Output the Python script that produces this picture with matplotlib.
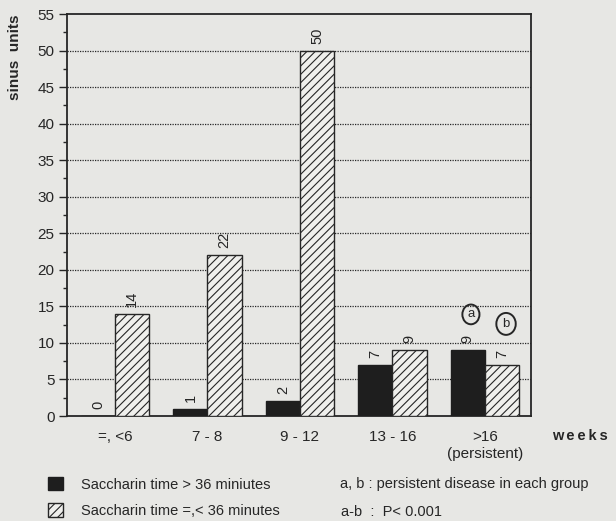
import matplotlib
matplotlib.use("Agg")
import matplotlib.pyplot as plt
from matplotlib.patches import Patch, Ellipse

plt.rcParams['font.family'] = ['Liberation Sans', 'DejaVu Sans']

# Data: sinus units by duration of disease (weeks)
categories = ["=, <6", "7 - 8", "9 - 12", "13 - 16", ">16\n(persistent)"]
slow_clearance = [0, 1, 2, 7, 9]      # saccharin time > 36 min
fast_clearance = [14, 22, 50, 9, 7]   # saccharin time =,< 36 min
yticks = list(range(0, 60, 5))

bg = "#e7e7e4"
ink = "#262626"

fig = plt.figure(figsize=(6.16, 5.21), dpi=100, facecolor=bg)
ax = fig.add_axes([67 / 616, 1 - 416 / 521, (531 - 67) / 616, (416 - 14) / 521])
ax.set_facecolor(bg)

x = list(range(len(categories)))
w = 0.37
plt.rcParams['hatch.linewidth'] = 0.8

b1 = ax.bar([i - w / 2 for i in x], slow_clearance, width=w, color="#1e1e1e",
            edgecolor="#1e1e1e", linewidth=1.0, zorder=3)
b2 = ax.bar([i + w / 2 for i in x], fast_clearance, width=w, color="#efefec",
            edgecolor=ink, hatch="////", linewidth=1.0, zorder=3)

for bars, vals in ((b1, slow_clearance), (b2, fast_clearance)):
    for r, v in zip(bars, vals):
        ax.annotate(str(v), (r.get_x() + r.get_width() / 2, v), xytext=(0, 5),
                    textcoords="offset points", rotation=90, ha="center",
                    va="bottom", fontsize=10.5, color=ink)

ax.set_xlim(-0.52, 4.5)
ax.set_ylim(0, 55)
ax.set_yticks(yticks)
ax.set_yticks([v + 2.5 for v in yticks[:-1]], minor=True)
ax.tick_params(axis="y", which="major", length=6, width=1, labelsize=11,
               colors=ink, pad=3)
ax.tick_params(axis="y", which="minor", length=3, width=1, colors=ink)
ax.set_xticks(x)
ax.set_xticklabels(categories, fontsize=11, color=ink, linespacing=1.3)
ax.tick_params(axis="x", length=0, pad=10)

for v in yticks[1:-1]:
    ax.axhline(v, color=ink, linewidth=0.9, linestyle=(0, (1, 1)), zorder=1)

for s in ax.spines.values():
    s.set_color(ink)
    s.set_linewidth(1.3)

# circled markers for the persistent-disease groups
for lab, cx, cy, ew, eh in (("a", 3.85, 13.9, 0.185, 2.7), ("b", 4.23, 12.6, 0.21, 3.0)):
    ax.add_patch(Ellipse((cx, cy), ew, eh, fill=False, ec=ink, lw=1.4, zorder=4))
    ax.text(cx, cy, lab, ha="center", va="center", fontsize=9.5, color=ink, zorder=4)

fig.text(15 / 616, 1 - 57 / 521, "sinus  units", rotation=90, ha="center",
         va="center", fontsize=11, fontweight="bold", color=ink)
fig.text(552 / 616, 1 - 436 / 521, "w\u2009e\u2009e\u2009k\u2009s", ha="left",
         va="center", fontsize=10.5, fontweight="bold", color=ink)

handles = [Patch(facecolor="#1e1e1e", edgecolor="#1e1e1e"),
           Patch(facecolor="#efefec", edgecolor=ink, hatch="////")]
fig.legend(handles, ["Saccharin time > 36 miniutes", "Saccharin time =,< 36 minutes"],
           loc="upper left", bbox_to_anchor=(45 / 616, 1 - 474 / 521),
           frameon=False, fontsize=10.5, handlelength=1.05, handleheight=1.05,
           handletextpad=1.2, labelspacing=0.8, labelcolor=ink,
           borderaxespad=0, borderpad=0.2)

fig.text(340 / 616, 1 - 484 / 521, "a, b : persistent disease in each group",
         ha="left", va="center", fontsize=10.5, color=ink)
fig.text(341 / 616, 1 - 512 / 521, "a-b  :  P< 0.001",
         ha="left", va="center", fontsize=10.5, color=ink)

fig.savefig("out.png", dpi=100, facecolor=bg)
